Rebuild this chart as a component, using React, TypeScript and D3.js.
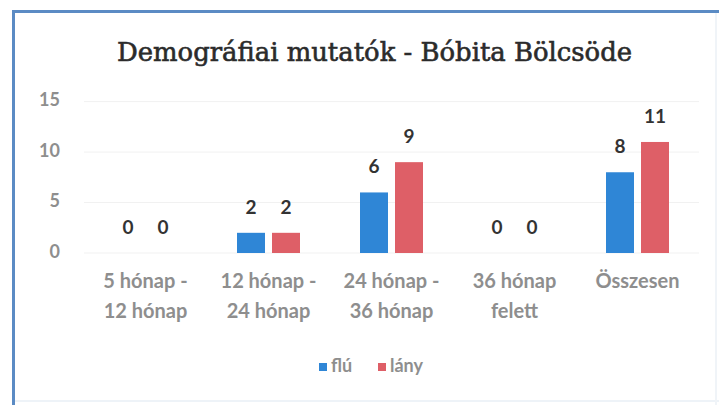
import React from 'react';
import * as d3 from 'd3';

// categories (two lines each) and series values
const categories = ['5 hónap -|12 hónap', '12 hónap -|24 hónap', '24 hónap -|36 hónap', '36 hónap|felett', 'Összesen'];
const seriesNames = ['flú', 'lány'];
const fiuValues = [0, 2, 6, 0, 8];
const lanyValues = [0, 2, 9, 0, 11];
const yTicks = [0, 5, 10, 15];
const colors = ['#2f86d6', '#de5f67'];

const W = 719;
const H = 405;
const labelFont = 'Lato, "Open Sans", sans-serif';

const App = () => {
  const x = d3.scaleBand().domain(categories).range([84, 699]).paddingInner(0).paddingOuter(0);
  // inner band for the two bars in each group
  const xs = d3.scaleBand().domain(seriesNames).range([-35, 35]).paddingInner(0.2).paddingOuter(0.1);
  const y = d3.scaleLinear().domain([0, 15]).range([253, 101.6]);
  const series = [fiuValues, lanyValues];

  return (
    <svg width={W} height={H} style={{ position: 'absolute', left: 0, top: 0, background: '#fff' }}>
      <rect x={0} y={0} width={W} height={H} fill="#fff" />
      {/* frame of the scanned chart */}
      <line x1={13.5} x2={13.5} y1={10} y2={H} stroke="#5b8bc4" strokeWidth={3} />
      <line x1={12} x2={W} y1={11.5} y2={11.5} stroke="#5b8bc4" strokeWidth={3} />
      <line x1={15} x2={W} y1={401} y2={401} stroke="#eef3f8" strokeWidth={2} />
      <line x1={716} x2={716} y1={13} y2={H} stroke="#f0f4f8" strokeWidth={2} />

      <text
        x={374.5}
        y={61}
        textAnchor="middle"
        fontFamily='"DejaVu Serif", serif'
        fontSize={26}
        fill="#2b2b2b"
        stroke="#2b2b2b"
        strokeWidth={0.6}
        textLength={515}
        lengthAdjust="spacingAndGlyphs"
      >
        Demográfiai mutatók - Bóbita Bölcsöde
      </text>

      {/* faint gridlines and y tick labels */}
      {yTicks.map((t) => (
        <g key={t}>
          <line x1={84} x2={699} y1={y(t)} y2={y(t)} stroke="#f1f1f1" strokeWidth={1} />
          <text
            x={60}
            y={y(t)}
            textAnchor="end"
            dominantBaseline="middle"
            fontFamily={labelFont}
            fontWeight="bold"
            fontSize={18}
            fill="#8e8e8e"
          >
            {t}
          </text>
        </g>
      ))}

      {/* bars and value labels */}
      {categories.map((c, i) => (
        <g key={c} transform={`translate(${x(c)! + x.bandwidth() / 2},0)`}>
          {seriesNames.map((s, j) => {
            const v = series[j][i];
            return (
              <g key={s}>
                {v > 0 && (
                  <rect x={xs(s)} y={y(v)} width={xs.bandwidth()} height={y(0) - y(v)} fill={colors[j]} />
                )}
                <text
                  x={xs(s)! + xs.bandwidth() / 2}
                  y={y(v) - 24}
                  textAnchor="middle"
                  dominantBaseline="middle"
                  fontFamily={labelFont}
                  fontWeight="bold"
                  fontSize={19}
                  fill="#333"
                >
                  {v}
                </text>
              </g>
            );
          })}
          <text textAnchor="middle" fontFamily={labelFont} fontWeight="bold" fontSize={20} fill="#8e8e8e">
            {c.split('|').map((line, k) => (
              <tspan key={k} x={0} y={283 + k * 30} dominantBaseline="middle">
                {line}
              </tspan>
            ))}
          </text>
        </g>
      ))}

      {/* legend */}
      {seriesNames.map((s, j) => {
        const lx = j === 0 ? 319 : 378;
        return (
          <g key={s} transform={`translate(${lx},367)`}>
            <rect x={0} y={-4} width={8} height={8} fill={colors[j]} />
            <text x={12} y={0} dominantBaseline="middle" fontFamily={labelFont} fontWeight="bold" fontSize={18} fill="#8e8e8e">
              {s}
            </text>
          </g>
        );
      })}
    </svg>
  );
};

export default App;
